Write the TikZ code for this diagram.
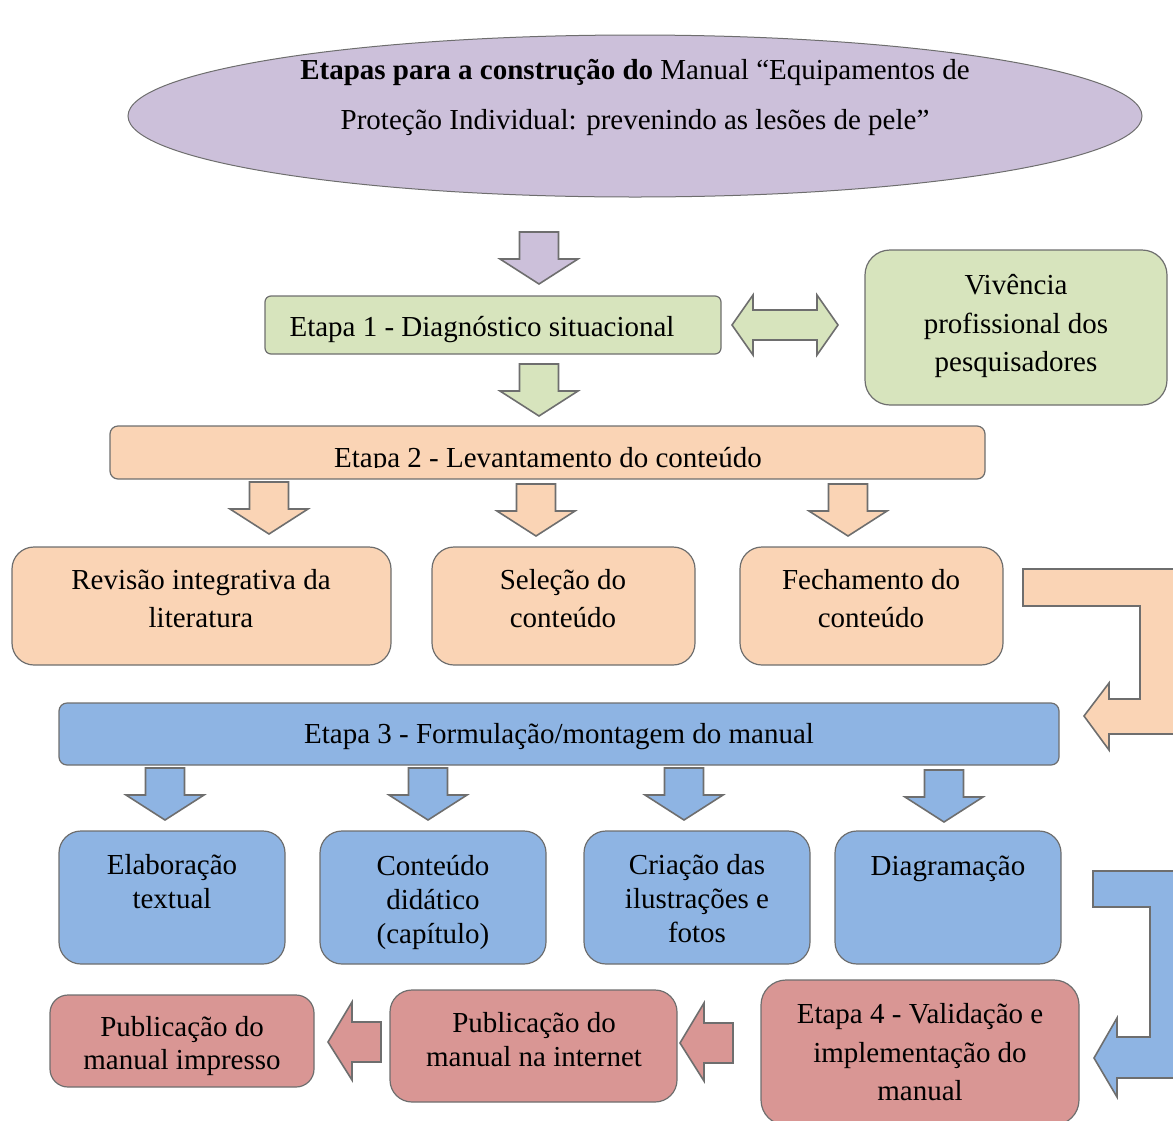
\documentclass[tikz,border=0pt]{standalone}
\usepackage{fontspec}
\setmainfont{Liberation Serif}
\usetikzlibrary{shapes.geometric}
\definecolor{purp}{HTML}{CCC0DA}
\definecolor{grn}{HTML}{D7E4BD}
\definecolor{orng}{HTML}{FAD4B5}
\definecolor{blu}{HTML}{8EB4E3}
\definecolor{rd}{HTML}{D99694}
\definecolor{lgray}{HTML}{6E6E6E}
\begin{document}
\begin{tikzpicture}[x=1pt,y=-1pt,
  box/.style={draw=lgray, line width=1.2pt, inner sep=0pt, outer sep=0pt},
  arr/.style={draw=lgray, line width=1.6pt, line join=miter},
  txt/.style={inner sep=0pt, align=center, font=\fontsize{29}{#1}\selectfont},
  txt/.default=34,
  pics/darrow/.style={code={\draw[arr, fill=#1] (-19.5,0) -- (19.5,0) -- (19.5,27) -- (39,27) -- (0,52) -- (-39,27) -- (-19.5,27) -- cycle;}},
  pics/larrow/.style={code={\draw[arr, fill=#1] (53,-20) -- (53,20) -- (24,20) -- (24,38) -- (0,0) -- (24,-40) -- (24,-20) -- cycle;}}
]
\useasboundingbox (0,0) rectangle (1173,1120);
\clip (0,0) rectangle (1173,1120);

% title ellipse
\node[ellipse, draw=lgray, line width=1pt, fill=purp, minimum width=1014pt, minimum height=162pt, inner sep=0pt] (title) at (635,116) {};
\node[txt=50] (titlet) at (635,97) {\textbf{Etapas para a construção do} Manual “Equipamentos de\\Proteção Individual: prevenindo as lesões de pele”};

% Etapa 1
\node[box, fill=grn, minimum width=456pt, minimum height=58pt, rounded corners=6pt] (e1) at (493,325) {};
\node[txt] (e1t) at (482,330) {Etapa 1 - Diagnóstico situacional};
\node[box, fill=grn, minimum width=302pt, minimum height=155pt, rounded corners=25pt] (viv) at (1016,327.5) {};
\node[txt=38.5] (vivt) at (1016,326) {Vivência\\profissional dos\\pesquisadores};

% Etapa 2
\node[box, fill=orng, minimum width=875pt, minimum height=53pt, rounded corners=8pt] (e2) at (547.5,452.5) {};
\begin{scope}
\clip (110,420) rectangle (985,467);
\node[txt, anchor=base] (e2t) at (548,467) {Etapa 2 - Levantamento do conteúdo};
\end{scope}

\node[box, fill=orng, minimum width=379pt, minimum height=118pt, rounded corners=22pt] (rev) at (201.5,606) {};
\node[txt=38] (revt) at (201,599) {Revisão integrativa da\\literatura};
\node[box, fill=orng, minimum width=263pt, minimum height=118pt, rounded corners=22pt] (sel) at (563.5,606) {};
\node[txt=38] (selt) at (563,599) {Seleção do\\conteúdo};
\node[box, fill=orng, minimum width=263pt, minimum height=118pt, rounded corners=22pt] (fec) at (871.5,606) {};
\node[txt=38] (fect) at (871,599) {Fechamento do\\conteúdo};

% Etapa 3
\node[box, fill=blu, minimum width=1000pt, minimum height=62pt, rounded corners=8pt] (e3) at (559,734) {};
\node[txt] (e3t) at (559,737) {Etapa 3 - Formulação/montagem do manual};

\node[box, fill=blu, minimum width=226pt, minimum height=133pt, rounded corners=22pt] (ela) at (172,897.5) {};
\node[txt] (elat) at (172,882) {Elaboração\\textual};
\node[box, fill=blu, minimum width=226pt, minimum height=133pt, rounded corners=22pt] (con) at (433,897.5) {};
\node[txt] (cont) at (433,902) {Conteúdo\\didático\\(capítulo)};
\node[box, fill=blu, minimum width=226pt, minimum height=133pt, rounded corners=22pt] (cri) at (697,897.5) {};
\node[txt] (crit) at (697,899) {Criação das\\ilustrações e\\fotos};
\node[box, fill=blu, minimum width=226pt, minimum height=133pt, rounded corners=22pt] (dia) at (948,897.5) {};
\node[txt] (diat) at (948,869) {Diagramação};

% Etapa 4 and publications
\node[box, fill=rd, minimum width=318pt, minimum height=145pt, rounded corners=25pt] (e4) at (920,1052.5) {};
\node[txt=38.5] (e4t) at (920,1052.5) {Etapa 4 - Validação e\\implementação do\\manual};
\node[box, fill=rd, minimum width=287pt, minimum height=112pt, rounded corners=22pt] (pint) at (533.5,1046) {};
\node[txt] (pintt) at (534,1040) {Publicação do\\manual na internet};
\node[box, fill=rd, minimum width=264pt, minimum height=92pt, rounded corners=18pt] (pimp) at (182,1041) {};
\node[txt=33] (pimpt) at (182,1046) {Publicação do\\manual impresso};

% block arrows
\pic at (539,232) {darrow=purp};
\pic at (539,364) {darrow=grn};
\pic at (269,482) {darrow=orng};
\pic at (536,484) {darrow=orng};
\pic at (848,484) {darrow=orng};
\pic at (165,768) {darrow=blu};
\pic at (428,768) {darrow=blu};
\pic at (684,768) {darrow=blu};
\pic at (944,770) {darrow=blu};
\pic at (680,1043) {larrow=rd};
\pic at (328,1042) {larrow=rd};

% double arrow
\draw[arr, fill=grn] (732,325) -- (753,295) -- (753,310) -- (817,310) -- (817,295) -- (838,325) -- (817,355) -- (817,340) -- (753,340) -- (753,355) -- cycle;

% bent arrows
\draw[arr, fill=orng] (1023,569) -- (1185,569) -- (1185,734) -- (1109,734) -- (1109,750) -- (1084,716) -- (1109,683) -- (1109,699) -- (1140,699) -- (1140,606) -- (1023,606) -- cycle;
\draw[arr, fill=blu] (1093,871) -- (1185,871) -- (1185,1078) -- (1117,1078) -- (1117,1097) -- (1094,1058) -- (1117,1018) -- (1117,1037) -- (1150,1037) -- (1150,907) -- (1093,907) -- cycle;
\end{tikzpicture}
\end{document}
